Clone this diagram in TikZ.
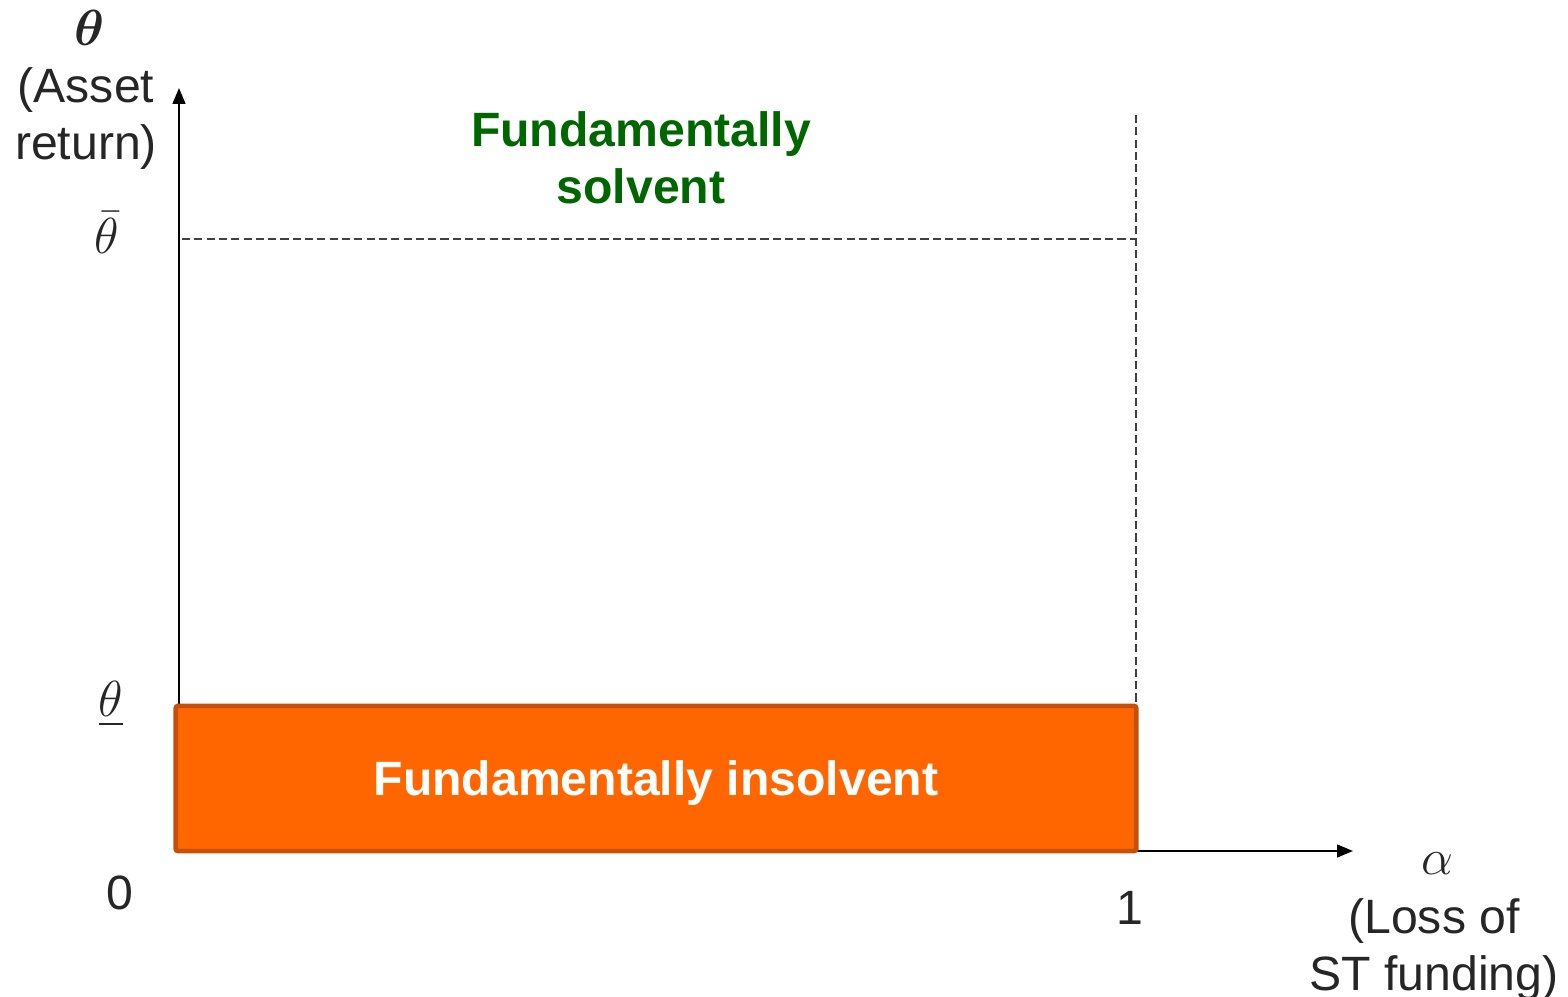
\documentclass[tikz,border=0pt]{standalone}
\usepackage{amsmath}
\usepackage{fontspec}
\setmainfont{Liberation Sans}
\usetikzlibrary{arrows.meta}

\definecolor{boxorange}{RGB}{255,102,0}
\definecolor{boxedge}{RGB}{197,80,10}
\definecolor{solventgreen}{RGB}{0,102,0}
\definecolor{labelgray}{RGB}{38,38,38}

\begin{document}
\begin{tikzpicture}[x=0.01cm, y=-0.01cm,
    font=\fontsize{13.7}{16.2}\selectfont,
    lbl/.style={text=labelgray, align=center, inner sep=0pt},
    guide/.style={line width=0.4pt, draw=black!75, dash pattern=on 2.3pt off 1.2pt},
    axis/.style={line width=0.6pt, -{Triangle[length=4.5pt, width=3.6pt]}},
    region/.style={fill=boxorange, draw=boxedge, line width=1.3pt, rounded corners=0.6pt,
      minimum width=9.6cm, minimum height=1.45cm, inner sep=0pt}]
  \useasboundingbox (0,0) rectangle (1568,997);

  % axes
  \coordinate (origin) at (179,851);
  \coordinate (ytip) at (179,88);
  \coordinate (xtip) at (1353,851);
  \coordinate (xend) at (1136,851);
  \draw[axis] (origin) -- (ytip);
  \draw[axis] (origin) -- (xtip);

  % upper bound and alpha = 1
  \coordinate (barleft) at (182,239);
  \coordinate (barright) at (1136,239);
  \coordinate (onetop) at (1136,115);
  \draw[guide] (barleft) -- (barright);
  \draw[guide] (onetop) -- (xend);

  % insolvency region
  \node[region] (insolvent) at (656,778.5) {};
  \node[text=white, font=\fontsize{13.7}{16.2}\selectfont\bfseries, inner sep=0pt]
    (insolventtext) at (656,783) {Fundamentally insolvent};

  % axis labels
  \node[lbl] (theta) at (90,28) {$\boldsymbol{\theta}$};
  \node[lbl] (ylabel) at (86,119) {(Asset\\return)};
  \node[lbl] (thetabar) at (107,233) {$\bar{\theta}$};
  \node[lbl] (thetalow) at (111,704) {$\underline{\theta}$};
  \node[lbl] (zero) at (120,893) {0};
  \node[lbl] (one) at (1130,908) {1};
  \node[lbl] (alpha) at (1437,864) {$\alpha$};
  \node[lbl] (xlabel) at (1434,950) {(Loss of\\ST funding)};

  % solvency region
  \node[lbl, text=solventgreen, font=\fontsize{13.7}{16.2}\selectfont\bfseries]
    (solvent) at (641,158) {Fundamentally\\solvent};
\end{tikzpicture}
\end{document}
